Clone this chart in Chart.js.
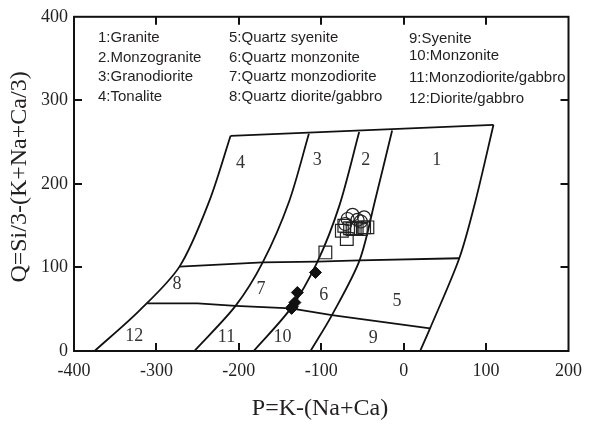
<!DOCTYPE html>
<html>
<head>
<meta charset="utf-8">
<script src="https://cdn.jsdelivr.net/npm/chart.js@4/dist/chart.umd.min.js"></script>
<style>
  html, body { margin: 0; padding: 0; background: #ffffff; }
  #wrap { width: 591px; height: 426px; }
</style>
</head>
<body>
<div id="wrap"><canvas id="pq" width="591" height="426"></canvas></div>
<script>
// Axis ticks
const xTickValues = [-400, -300, -200, -100, 0, 100, 200];
const yTickValues = [0, 100, 200, 300, 400];

// Field boundaries of the P-Q classification, as [P, Q] vertices
const outerLeftEdge  = [[-375, 0], [-321, 48], [-272, 101], [-236, 179], [-210, 257.6]];
const outerRightEdge = [[20, 0], [32, 27], [67.5, 111], [87, 179], [109, 270.7]];
const topEdge        = [[-210, 257.6], [109, 270.7]];
const boundary4to3   = [[-254, 0], [-204, 54], [-171, 106], [-139, 179], [-115, 260]];
const boundary3to2   = [[-182, 0], [-137, 51], [-105, 106], [-78, 174], [-54, 262]];
const boundary2to1   = [[-113, 0], [-87, 43], [-53.5, 108.5], [-35, 179], [-14, 264]];
const upperCross     = [[-272, 101], [-171, 106], [-105, 107], [-53.5, 108.5], [67.5, 111]];
const lowerCross     = [[-311, 57], [-250, 57], [-204, 54], [-137, 51], [-87, 43], [32, 27]];

// Samples, as [P, Q]
const circleSamples  = [[-62, 163], [-48, 160], [-68, 158], [-56, 157], [-71, 152], [-52, 155]];
const squareSamples  = [[-95, 118], [-75, 144], [-69, 134], [-44, 148], [-62, 146], [-57, 147],
                        [-52, 146], [-65, 147], [-48, 148], [-72, 150]];
const diamondSamples = [[-107, 94], [-129, 70], [-132, 58], [-135, 53], [-136, 51]];

// Field numbers and where they sit, as [P, Q]
const fieldNumbers   = ['1', '2', '3', '4', '5', '6', '7', '8', '9', '10', '11', '12'];
const fieldAnchors   = [[40, 228], [-46, 228], [-105, 228], [-198, 225], [-8, 60], [-97, 67],
                        [-173, 74], [-275, 80], [-37, 15], [-147, 16], [-215, 17], [-327, 18]];

// Key to the field numbers
const keyColumn1 = ['1:Granite', '2.Monzogranite', '3:Granodiorite', '4:Tonalite'];
const keyColumn2 = ['5:Quartz syenite', '6:Quartz monzonite', '7:Quartz monzodiorite', '8:Quartz diorite/gabbro'];
const keyColumn3 = ['9:Syenite', '10:Monzonite', '11:Monzodiorite/gabbro', '12:Diorite/gabbro'];

const xTitle = 'P=K-(Na+Ca)';
const yTitle = 'Q=Si/3-(K+Na+Ca/3)';

const INK = '#231f20';
const SERIF = '"Liberation Serif", "Times New Roman", serif';
const SANS = '"Liberation Sans", Arial, sans-serif';

const toXY = pts => pts.map(([x, y]) => ({ x, y }));

function boundary(pts, tension) {
  return {
    data: toXY(pts),
    showLine: true,
    borderColor: '#111111',
    borderWidth: 1.8,
    pointRadius: 0,
    tension: tension,
    fill: false
  };
}

// Frame, inward ticks, field numbers, key and axis titles
const decorations = {
  id: 'decorations',
  afterDraw(chart) {
    const { ctx, chartArea: a, scales: { x, y } } = chart;
    ctx.save();

    // frame
    ctx.strokeStyle = '#111111';
    ctx.lineWidth = 2;
    ctx.strokeRect(a.left, a.top, a.right - a.left, a.bottom - a.top);

    // inward ticks on all four sides
    const len = 8;
    ctx.beginPath();
    xTickValues.slice(1, -1).forEach(v => {
      const px = Math.round(x.getPixelForValue(v));
      ctx.moveTo(px, a.bottom); ctx.lineTo(px, a.bottom - len);
      ctx.moveTo(px, a.top);    ctx.lineTo(px, a.top + len);
    });
    yTickValues.slice(1, -1).forEach(v => {
      const py = Math.round(y.getPixelForValue(v));
      ctx.moveTo(a.left, py);  ctx.lineTo(a.left + len, py);
      ctx.moveTo(a.right, py); ctx.lineTo(a.right - len, py);
    });
    ctx.stroke();

    // field numbers
    ctx.fillStyle = '#333333';
    ctx.font = '18px ' + SERIF;
    ctx.textAlign = 'center';
    ctx.textBaseline = 'middle';
    fieldNumbers.forEach((t, i) => {
      const [p, q] = fieldAnchors[i];
      ctx.fillText(t, x.getPixelForValue(p), y.getPixelForValue(q));
    });

    // key
    ctx.fillStyle = INK;
    ctx.font = '15px ' + SANS;
    ctx.textAlign = 'left';
    const rows1 = [38, 58, 77, 97];
    const rows3 = [39, 56, 78, 99];
    keyColumn1.forEach((t, i) => ctx.fillText(t, a.left + 24, rows1[i]));
    keyColumn2.forEach((t, i) => ctx.fillText(t, a.left + 155, rows1[i]));
    keyColumn3.forEach((t, i) => ctx.fillText(t, a.left + 335, rows3[i]));

    // axis titles
    ctx.font = '24px ' + SERIF;
    ctx.textAlign = 'center';
    ctx.fillText(xTitle, 320, 409);
    ctx.translate(20, 177);
    ctx.rotate(-Math.PI / 2);
    ctx.fillText(yTitle, 0, 0);

    ctx.restore();
  }
};

new Chart(document.getElementById('pq'), {
  type: 'scatter',
  data: {
    datasets: [
      {
        data: toXY(diamondSamples),
        pointStyle: 'rectRot',
        pointRadius: 6,
        borderColor: '#111111',
        backgroundColor: '#111111',
        borderWidth: 1
      },
      {
        data: toXY(squareSamples),
        pointStyle: 'rect',
        pointRadius: 9,
        borderColor: '#222222',
        backgroundColor: 'rgba(255,255,255,0)',
        borderWidth: 1.2
      },
      {
        data: toXY(circleSamples),
        pointStyle: 'circle',
        pointRadius: 6.5,
        borderColor: '#222222',
        backgroundColor: 'rgba(255,255,255,0)',
        borderWidth: 1.2
      },
      boundary(outerLeftEdge, 0.3),
      boundary(outerRightEdge, 0.3),
      boundary(topEdge, 0),
      boundary(boundary4to3, 0.3),
      boundary(boundary3to2, 0.3),
      boundary(boundary2to1, 0.3),
      boundary(upperCross, 0),
      boundary(lowerCross, 0)
    ]
  },
  options: {
    responsive: false,
    animation: false,
    devicePixelRatio: 1,
    events: [],
    layout: { padding: { top: 15, right: 13, left: 0, bottom: 0 } },
    plugins: { legend: { display: false }, tooltip: { enabled: false } },
    scales: {
      x: {
        type: 'linear',
        min: -400,
        max: 200,
        afterBuildTicks: s => { s.ticks = xTickValues.map(v => ({ value: v })); },
        afterFit: s => { s.height = 75; },
        grid: { display: false, drawTicks: false },
        border: { display: false },
        ticks: { color: INK, font: { family: SERIF, size: 18 }, padding: 9, maxRotation: 0 }
      },
      y: {
        type: 'linear',
        min: 0,
        max: 400,
        afterBuildTicks: s => { s.ticks = yTickValues.map(v => ({ value: v })); },
        afterFit: s => { s.width = 74; },
        grid: { display: false, drawTicks: false },
        border: { display: false },
        ticks: { color: INK, font: { family: SERIF, size: 18 }, padding: 6 }
      }
    }
  },
  plugins: [decorations]
});
</script>
</body>
</html>
